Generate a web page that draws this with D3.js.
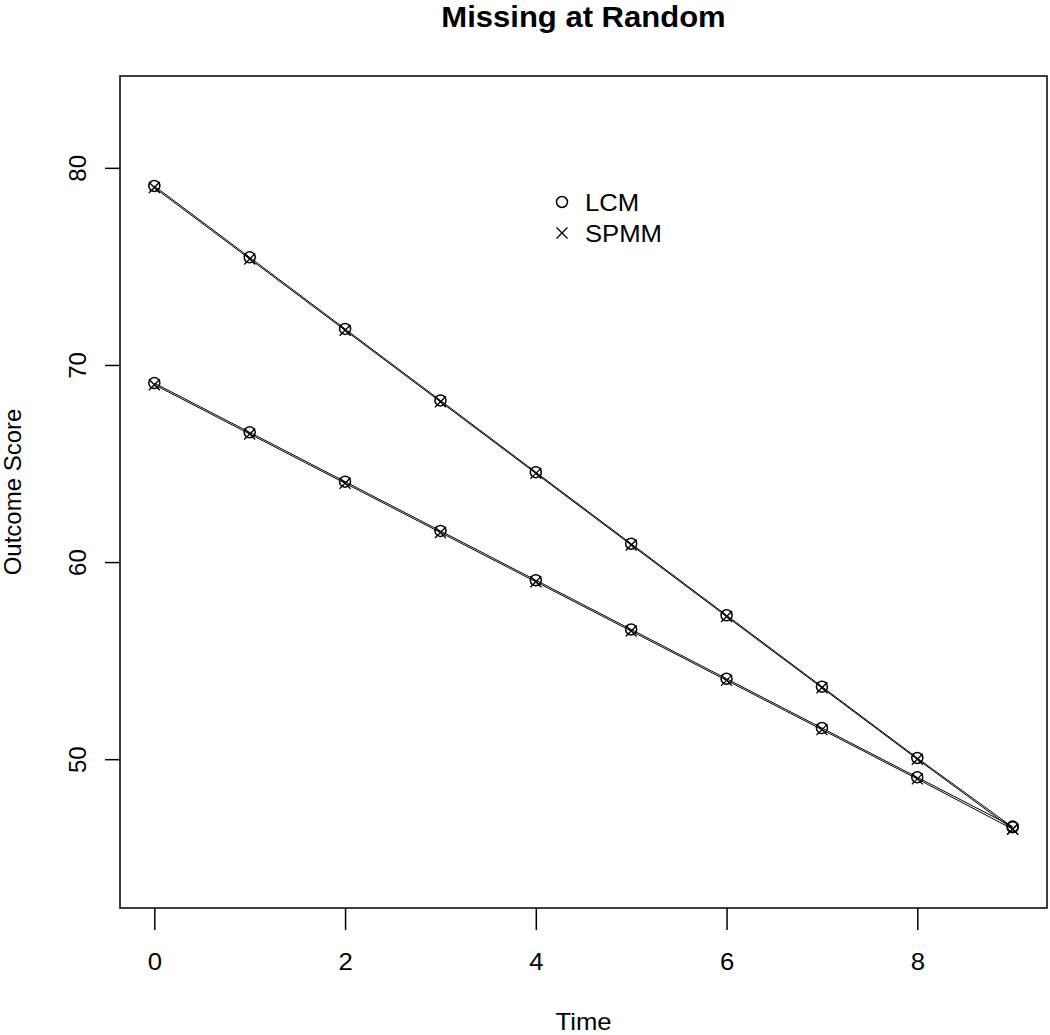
<!DOCTYPE html>
<html>
<head>
    <script src="https://d3js.org/d3.v7.min.js"></script>
    <style>
        body { margin: 0; background: white; }
        text { font-family: "Liberation Sans", Arial, sans-serif; fill: black; }
    </style>
</head>
<body>
    <div id="chart"></div>
    <script>
        const width = 1050, height = 1035
        const margin = { top: 76, right: 3, bottom: 127, left: 120 }
        const stretch = 1.07 // reference text is a bit wide

        const times = [0, 1, 2, 3, 4, 5, 6, 7, 8, 9]
        const lcmHigh = [79.08, 75.46, 71.83, 68.2, 64.56, 60.93, 57.3, 53.68, 50.06, 46.55]
        const spmmHigh = [79.0, 75.38, 71.76, 68.13, 64.5, 60.87, 57.24, 53.62, 50.0, 46.45]
        const lcmLow = [69.08, 66.58, 64.08, 61.58, 59.08, 56.58, 54.08, 51.58, 49.08, 46.58]
        const spmmLow = [69.0, 66.5, 64.0, 61.5, 59.0, 56.5, 54.0, 51.5, 49.0, 46.45]
        const xTicks = [0, 2, 4, 6, 8]
        const yTicks = [50, 60, 70, 80]
        const legendLabels = ["LCM", "SPMM"]

        const svg = d3.select("#chart")
            .append("svg")
            .attr("width", width)
            .attr("height", height)

        const x = d3.scaleLinear()
            .domain([-0.36, 9.36])
            .range([margin.left, width - margin.right])
        const y = d3.scaleLinear()
            .domain([42.45, 84.66])
            .range([height - margin.bottom, margin.top])

        // plot box
        svg.append("rect")
            .attr("x", margin.left)
            .attr("y", margin.top)
            .attr("width", width - margin.right - margin.left)
            .attr("height", height - margin.bottom - margin.top)
            .attr("fill", "none")
            .attr("stroke", "black")
            .attr("stroke-width", 1.5)

        // x axis
        const xAxis = svg.append("g")
            .attr("transform", `translate(0, ${height - margin.bottom})`)
            .call(d3.axisBottom(x).tickValues(xTicks).tickSize(22).tickFormat(d3.format("d")))
        xAxis.select(".domain").remove()
        xAxis.selectAll("line").attr("stroke-width", 1.5)
        xAxis.selectAll("text")
            .attr("font-size", 24)
            .attr("font-family", "Liberation Sans, Arial, sans-serif")
            .attr("y", 0)
            .attr("dy", 0)
            .attr("transform", `translate(0, 62) scale(${stretch}, 1)`)

        // y axis, labels parallel to axis
        const yAxis = svg.append("g")
            .attr("transform", `translate(${margin.left}, 0)`)
            .call(d3.axisLeft(y).tickValues(yTicks).tickSize(15).tickFormat(d3.format("d")))
        yAxis.select(".domain").remove()
        yAxis.selectAll("line").attr("stroke-width", 1.5)
        yAxis.selectAll("text")
            .attr("font-size", 24)
            .attr("font-family", "Liberation Sans, Arial, sans-serif")
            .attr("text-anchor", "middle")
            .attr("x", 0)
            .attr("dy", 0)
            .attr("transform", "translate(-34, 0) rotate(-90)")

        // titles
        const centerX = (margin.left + width - margin.right) / 2
        svg.append("text")
            .attr("transform", `translate(${centerX}, 27) scale(${stretch}, 1)`)
            .attr("text-anchor", "middle")
            .attr("font-size", 29)
            .attr("font-weight", "bold")
            .text("Missing at Random")
        svg.append("text")
            .attr("transform", `translate(${centerX}, 1030) scale(${stretch}, 1)`)
            .attr("text-anchor", "middle")
            .attr("font-size", 24)
            .text("Time")
        svg.append("text")
            .attr("transform", `translate(21, ${(margin.top + height - margin.bottom) / 2}) rotate(-90)`)
            .attr("text-anchor", "middle")
            .attr("font-size", 24)
            .text("Outcome Score")

        const series = [
            { values: lcmHigh, shape: "circle" },
            { values: spmmHigh, shape: "cross" },
            { values: lcmLow, shape: "circle" },
            { values: spmmLow, shape: "cross" }
        ]

        const line = d3.line()
            .x((d, i) => x(times[i]))
            .y(d => y(d))

        const r = 5.5
        const c = 5.5
        const crossPath = `M${-c},${-c}L${c},${c}M${-c},${c}L${c},${-c}`

        const drawMarker = (g, shape) => {
            if (shape === "circle") {
                g.append("circle").attr("r", r).attr("fill", "none").attr("stroke", "black").attr("stroke-width", 1.5)
            } else {
                g.append("path").attr("d", crossPath).attr("fill", "none").attr("stroke", "black").attr("stroke-width", 1.3)
            }
        }

        series.forEach(s => {
            svg.append("path")
                .datum(s.values)
                .attr("d", line)
                .attr("fill", "none")
                .attr("stroke", "black")
                .attr("stroke-width", 1)
            svg.append("g").selectAll("g")
                .data(s.values)
                .join("g")
                .attr("transform", (d, i) => `translate(${x(times[i])}, ${y(d)})`)
                .each(function () { drawMarker(d3.select(this), s.shape) })
        })

        // legend
        const legend = svg.append("g").attr("transform", "translate(562, 202)")
        legendLabels.forEach((label, i) => {
            const item = legend.append("g").attr("transform", `translate(0, ${i * 31})`)
            drawMarker(item, i === 0 ? "circle" : "cross")
            item.append("text")
                .attr("transform", `translate(23, 8.5) scale(${stretch}, 1)`)
                .attr("font-size", 24)
                .text(label)
        })
    </script>
</body>
</html>
